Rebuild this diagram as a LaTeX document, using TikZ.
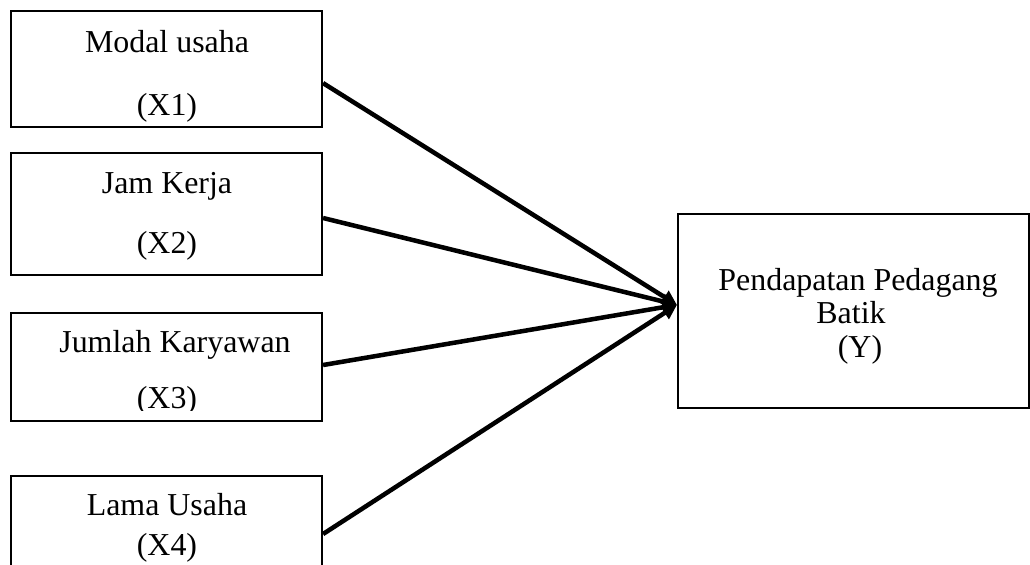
\documentclass[tikz,border=0pt]{standalone}
\usepackage{fontspec}
\setmainfont{Liberation Serif}
\usetikzlibrary{arrows.meta}

\begin{document}
\begin{tikzpicture}[x=0.376pt, y=-0.376pt,
    box/.style={draw, line width=0.8pt, minimum width=311*0.376pt, inner sep=0pt},
    word/.style={anchor=base, inner sep=0pt, font=\fontsize{12}{14}\selectfont},
    link/.style={line width=1.7pt, -{Triangle[length=5.5pt, width=5.5pt]}}]

    % Page frame
    \clip (0,0) rectangle (1030,564);

    % Draw the four variable boxes
    \node[box, minimum height=116*0.376pt] (x1) at (166.5,69) {};
    \node[box, minimum height=122*0.376pt] (x2) at (166.5,214) {};
    \node[box, minimum height=108*0.376pt] (x3) at (166.5,367) {};
    \node[box, minimum height=116*0.376pt] (x4) at (166.5,534) {};

    % Draw the result box
    \node[box, minimum width=351*0.376pt, minimum height=194*0.376pt] (y) at (853.5,311) {};

    % Texts of the variable boxes
    \node[word] (x1a) at (167,52) {Modal usaha};
    \node[word] (x1b) at (167,115) {(X1)};
    \node[word] (x2a) at (167,193) {Jam Kerja};
    \node[word] (x2b) at (167,253) {(X2)};
    \node[word] (x3a) at (175,352) {Jumlah Karyawan};
    \begin{scope}
        \clip (0,0) rectangle (1030,410);
        \node[word] (x3b) at (167,408) {(X3)};
    \end{scope}
    \node[word] (x4a) at (167,515) {Lama Usaha};
    \node[word] (x4b) at (167,555) {(X4)};

    % Texts of the result box
    \node[word] (ya) at (858,290) {Pendapatan Pedagang};
    \node[word] (yb) at (851,323) {Batik};
    \node[word] (yc) at (860,357) {(Y)};

    % Draw the arrows into the result box
    \coordinate (tip) at ([yshift=2.3pt]y.west);
    \draw[link] ([yshift=-5.3pt]x1.east) -- (tip);
    \draw[link] ([yshift=-1.5pt]x2.east) -- (tip);
    \draw[link] ([yshift=0.75pt]x3.east) -- (tip);
    \draw[link] (x4.east) -- (tip);

\end{tikzpicture}
\end{document}
